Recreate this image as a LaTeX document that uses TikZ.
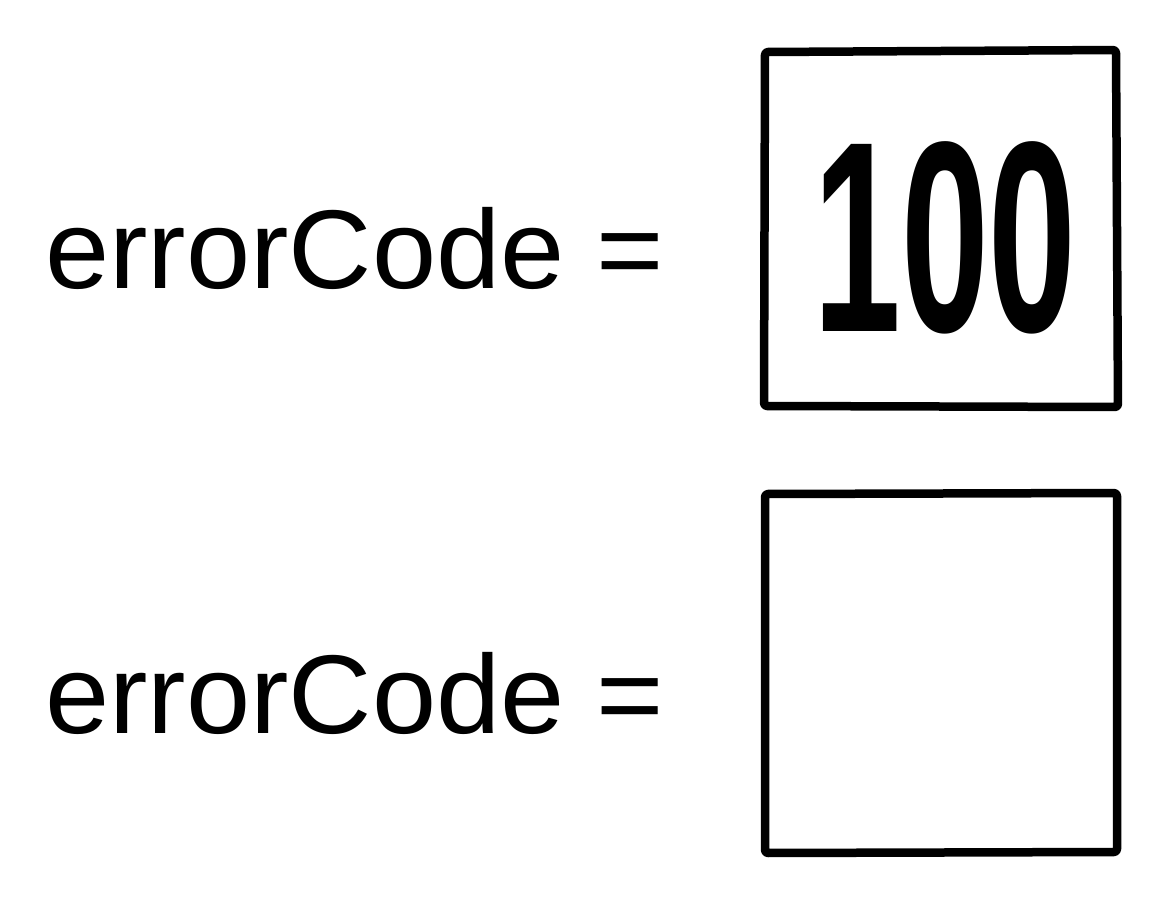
\documentclass[tikz,border=0pt]{standalone}
\usepackage{fontspec}
\setmainfont{Liberation Sans}
\begin{document}
\begin{tikzpicture}[x=1pt,y=-1pt,
  handbox/.style={draw=black,line width=8.5pt,line join=round,line cap=round,rounded corners=3pt},
  label/.style={font=\fontsize{112}{112}\selectfont,anchor=west,inner sep=0pt}]
\useasboundingbox (0,0) rectangle (1176,913);
\path[fill=white] (0,0) rectangle (1176,913);
\draw[handbox] (765,52) -- (1116,50) -- (1118,407) -- (764,406) -- cycle;
\draw[handbox] (765,494) -- (1117,493) -- (1117,852) -- (765,853) -- cycle;
\node[label] (l1) at (45,248) {\scalebox{1.03}[1]{errorCode =}};
\node[label] (l2) at (45,693) {\scalebox{1.03}[1]{errorCode =}};
\node[inner sep=0pt,font=\fontsize{272}{272}\selectfont\bfseries] (v) at (945,238) {\scalebox{0.58}[1]{100}};
\end{tikzpicture}
\end{document}
